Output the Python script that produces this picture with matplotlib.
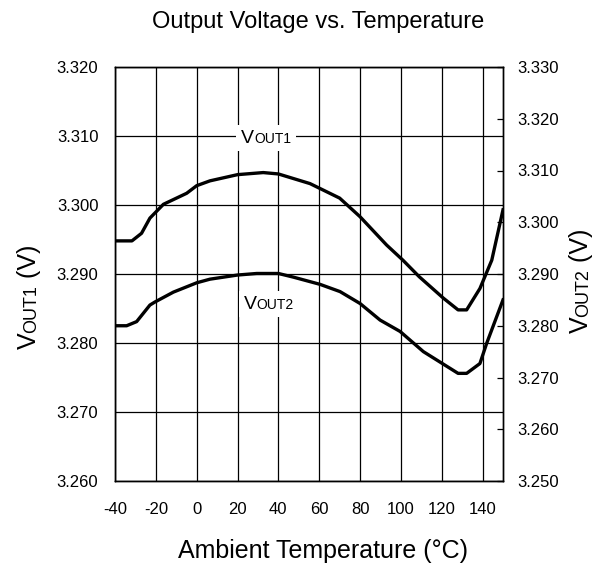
import matplotlib.pyplot as plt
from matplotlib.offsetbox import TextArea, HPacker, AnnotationBbox

plt.rcParams['font.family'] = ['Liberation Sans', 'DejaVu Sans']

# temperatures (C) and output voltages
temp1 = [-40, -31.7, -27, -22.9, -16.3, -4.9, 0, 6.5, 20, 32.6, 40, 55.5, 70, 80, 93,
         101, 109, 120.8, 128, 132.2, 138.7, 144.5, 150]
vout1 = [3.2948, 3.2948, 3.2959, 3.2981, 3.3001, 3.3017, 3.3028, 3.3035, 3.3044, 3.3047,
         3.3045, 3.3031, 3.3010, 3.2983, 3.2942, 3.2920, 3.2896, 3.2865, 3.2848, 3.2848,
         3.2879, 3.2920, 3.2993]

temp2 = [-40, -34.3, -29.4, -22.9, -20.4, -11.4, 0, 6.5, 20, 29.4, 40, 47.3, 60.4, 70.2,
         80, 89.8, 99.6, 111, 128, 132.2, 138.7, 142, 150]
vout2 = [3.2800, 3.2800, 3.2808, 3.2840, 3.2846, 3.2865, 3.2883, 3.2890, 3.2898, 3.2901,
         3.2901, 3.2894, 3.2880, 3.2866, 3.2843, 3.2811, 3.2789, 3.2750, 3.2708, 3.2708,
         3.2727, 3.2766, 3.2850]

xticks = list(range(-40, 141, 20))
left_ticks = [3.260, 3.270, 3.280, 3.290, 3.300, 3.310, 3.320]
right_ticks = [3.250, 3.260, 3.270, 3.280, 3.290, 3.300, 3.310, 3.320, 3.330]

W, H = 601, 566
fig = plt.figure(figsize=(W / 100, H / 100), dpi=100)
ax = fig.add_axes([115 / W, 85 / H, 388 / W, 414 / H])
ax2 = ax.twinx()

ax.set_xlim(-40, 150)
ax.set_ylim(3.260, 3.320)
ax2.set_ylim(3.250, 3.330)

ax.set_xticks(xticks)
ax.set_xticklabels([str(t) for t in xticks], fontsize=12)
ax.set_yticks(left_ticks)
ax.set_yticklabels(['%.3f' % v for v in left_ticks], fontsize=12)
ax2.set_yticks(right_ticks)
ax2.set_yticklabels(['%.3f' % v for v in right_ticks], fontsize=12)

ax.grid(True, color='black', lw=0.9)
ax.tick_params(axis='y', length=0, pad=12)
ax.tick_params(axis='x', length=0, pad=15)
ax2.tick_params(axis='y', direction='in', length=4, width=0.9, pad=10)

for a in (ax, ax2):
    for s in a.spines.values():
        s.set_linewidth(1.0)

ax.plot(temp1, vout1, color='black', lw=2.4, zorder=3)
ax2.plot(temp2, vout2, color='black', lw=2.4, zorder=3)


# "V" with small-caps "OUTn", baselines aligned, on a white patch
def curve_label(axis, x, y, sub):
    box = HPacker(children=[TextArea('V', textprops=dict(fontsize=14)),
                            TextArea(sub, textprops=dict(fontsize=10))],
                  align='baseline', pad=0, sep=0)
    ab = AnnotationBbox(box, (x, y), xycoords='data', frameon=True, pad=0.35,
                        bboxprops=dict(facecolor='white', edgecolor='none'), zorder=4)
    axis.add_artist(ab)


curve_label(ax, 34, 3.3097, 'OUT1')
curve_label(ax2, 35.4, 3.2842, 'OUT2')


# rotated axis label built from pieces of different size
def side_label(x_px, yc_px, parts):
    texts = [fig.text(0, 0, s, fontsize=fs, rotation=90, rotation_mode='anchor',
                      ha='left', va='baseline') for s, fs in parts]
    r = fig.canvas.get_renderer()
    lens = [t.get_window_extent(r).height for t in texts]
    y = H - (yc_px + sum(lens) / 2)
    for t, L in zip(texts, lens):
        t.set_position((x_px / W, y / H))
        y += L


side_label(36, 297, [('V', 18), ('OUT1', 13), (' (V)', 18)])
side_label(588, 281, [('V', 18), ('OUT2', 13), (' (V)', 18)])

fig.text(318.5 / W, (H - 28) / H, 'Output Voltage vs. Temperature', fontsize=17,
         ha='center', va='baseline')
fig.text(323.5 / W, (H - 558) / H, 'Ambient Temperature (°C)', fontsize=18,
         ha='center', va='baseline')

fig.savefig('out.png', dpi=100)
